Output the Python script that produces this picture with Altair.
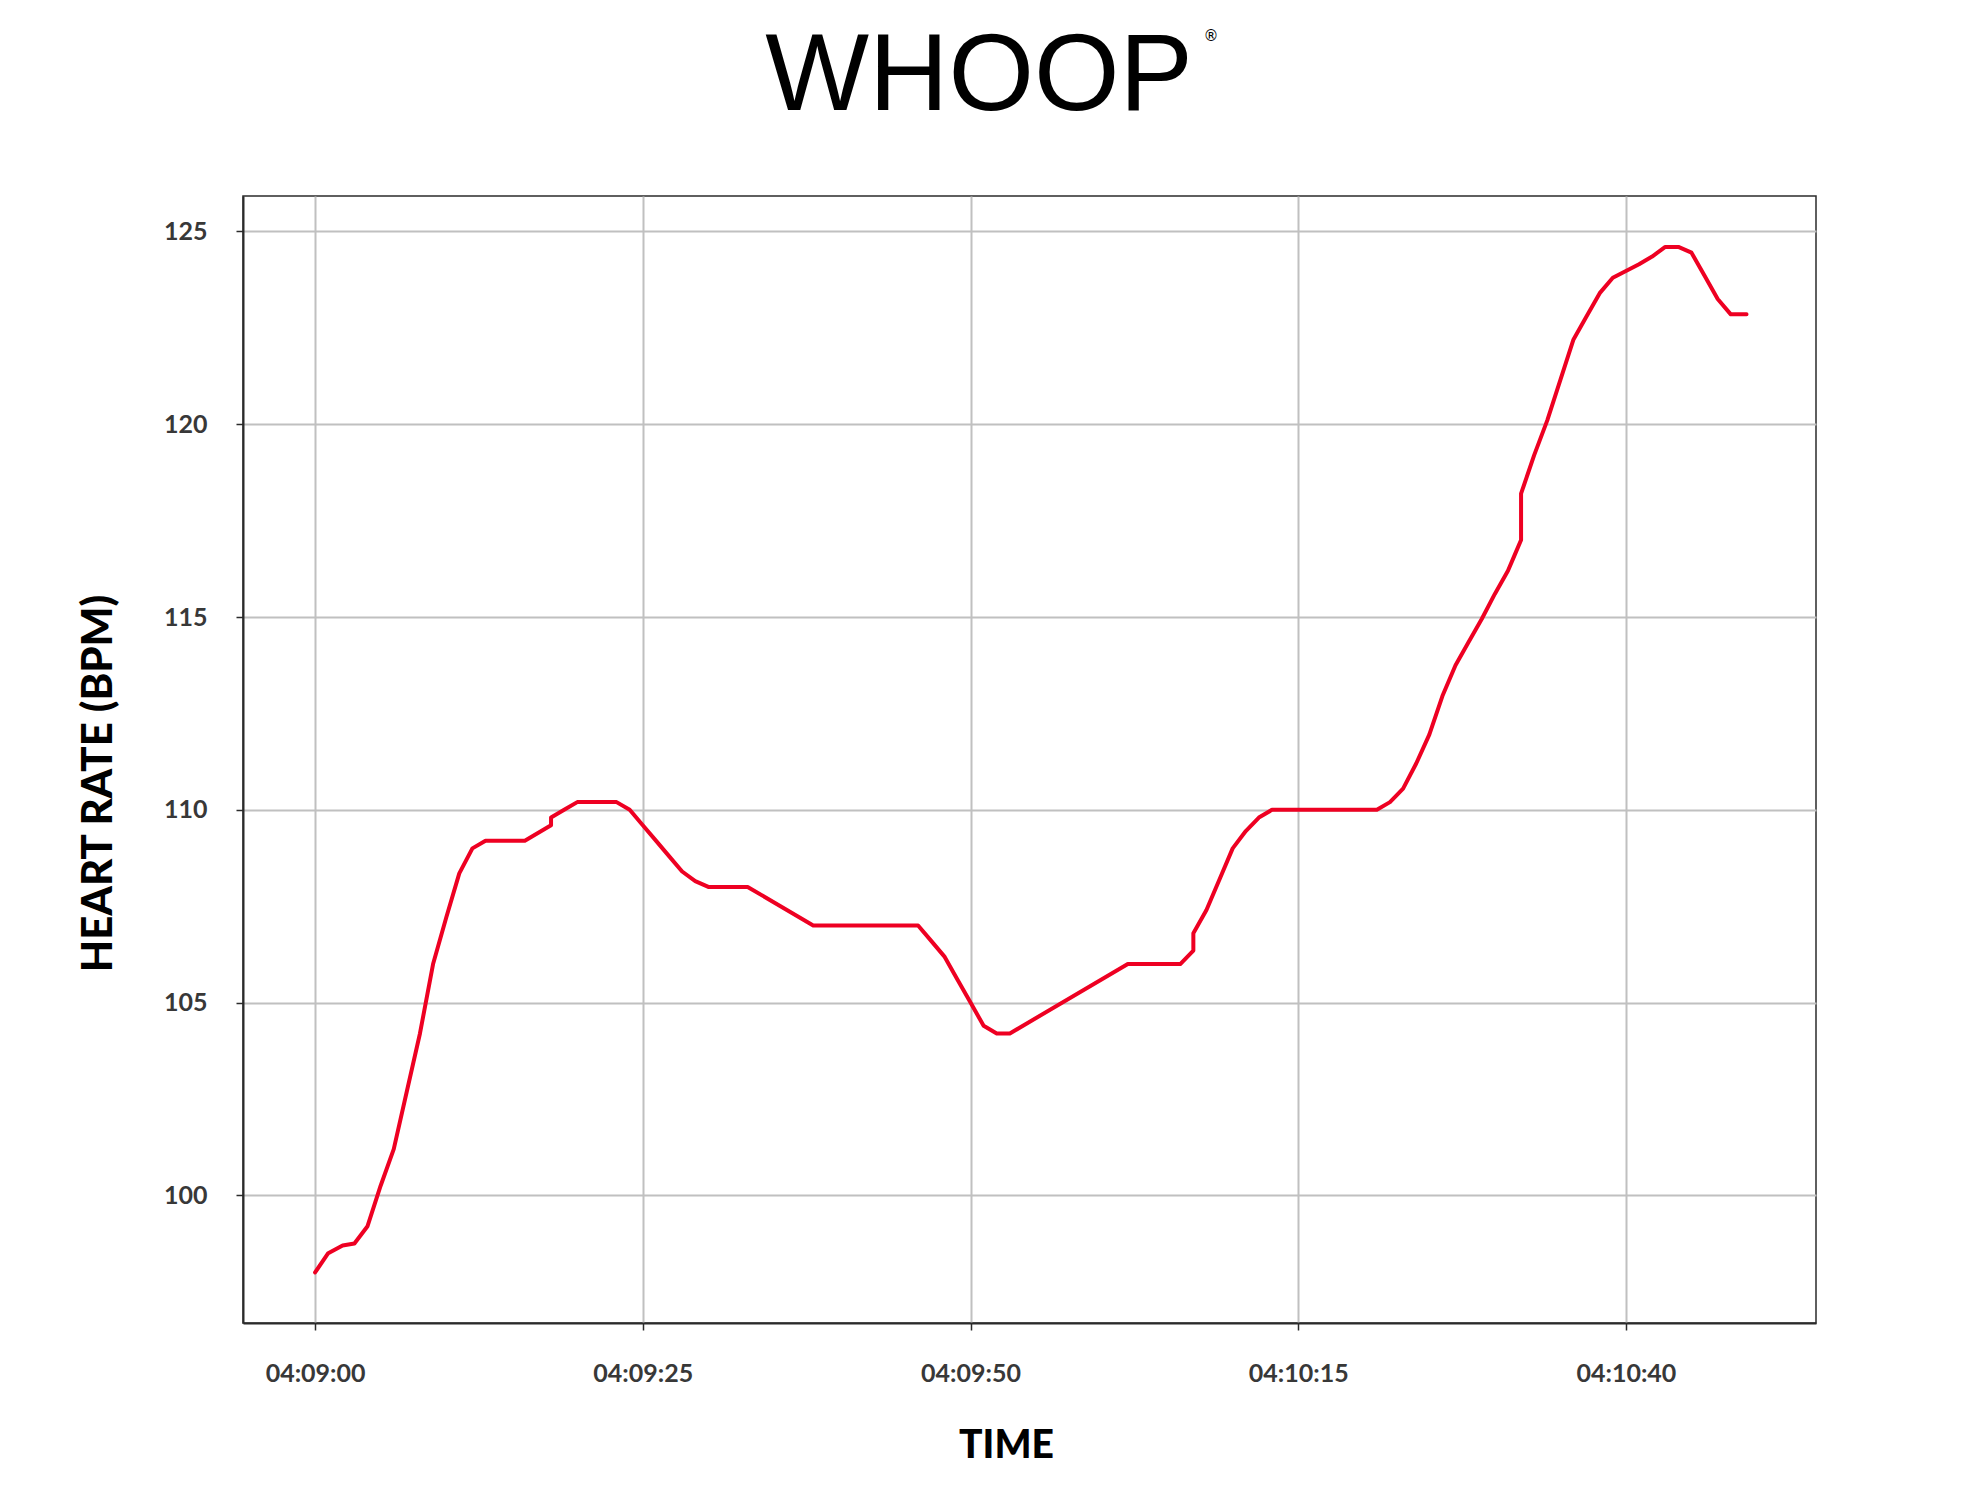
import altair as alt
import pandas as pd

# ---- data (seconds after 04:09:00, heart rate in BPM) ----
SECONDS = [0.0, 1.0, 2.1, 3.0, 4.0, 5.0, 6.0, 7.0, 8.0, 9.0, 10.0, 11.0, 12.0, 13.0,
           16.0, 18.0, 18.0, 19.0, 20.0, 23.0, 24.0, 25.0, 26.0, 27.0, 28.0, 29.0, 30.0,
           33.0, 38.0, 46.0, 47.0, 48.0, 49.0, 50.0, 51.0, 52.0, 53.0, 62.0, 66.0,
           67.0, 67.0, 68.0, 69.0, 70.0, 71.0, 72.0, 73.0, 81.0, 82.0, 83.0, 84.0,
           85.0, 86.0, 87.0, 88.0, 89.0, 90.0, 91.0, 91.5, 92.0, 92.0, 93.0, 94.0,
           95.0, 96.0, 97.0, 98.0, 99.0, 101.0, 102.0, 103.0, 104.0, 105.0, 106.0,
           107.0, 108.0, 109.2]
HEART_RATE = [98.0, 98.5, 98.7, 98.75, 99.2, 100.25, 101.2, 102.7, 104.2, 106.0, 107.2,
              108.35, 109.0, 109.2, 109.2, 109.6, 109.8, 110.0, 110.2, 110.2, 110.0,
              109.6, 109.2, 108.8, 108.4, 108.15, 108.0, 108.0, 107.0, 107.0, 106.6,
              106.2, 105.6, 105.0, 104.4, 104.2, 104.2, 106.0, 106.0, 106.35, 106.8,
              107.4, 108.2, 109.0, 109.45, 109.8, 110.0, 110.0, 110.2, 110.55, 111.2,
              111.95, 112.95, 113.75, 114.35, 114.95, 115.6, 116.2, 116.6, 117.0,
              118.2, 119.2, 120.1, 121.15, 122.2, 122.8, 123.4, 123.8, 124.15, 124.35,
              124.6, 124.6, 124.45, 123.85, 123.25, 122.85, 122.85]

X_TICKS = [0, 25, 50, 75, 100]          # 04:09:00 ... 04:10:40
Y_TICKS = [100, 105, 110, 115, 120, 125]
X_DOMAIN = [-5.5, 114.5]
Y_DOMAIN = [96.69, 125.92]

LOGO = "WHOOP"
LOGO_MARK = "®"
X_TITLE = "TIME"
Y_TITLE = "HEART RATE (BPM)"

df = pd.DataFrame({"sec": SECONDS, "bpm": HEART_RATE})

W, H = 1573, 1127
LABEL_FONT = "Lato"

line = alt.Chart(df).mark_line(
    color="#ee0022", strokeWidth=4, strokeJoin="round", strokeCap="round"
).encode(
    x=alt.X(
        "sec:Q",
        scale=alt.Scale(domain=X_DOMAIN, nice=False, zero=False),
        axis=alt.Axis(
            values=X_TICKS,
            labelExpr="timeFormat(datetime(2021, 0, 1, 4, 9, datum.value), '%H:%M:%S')",
            title=X_TITLE,
            titleX=763, titleY=134, titleAlign="center", titleBaseline="alphabetic",
            titleFont=LABEL_FONT, titleFontSize=39, titleFontWeight=900, titleColor="#000000",
            labelFont=LABEL_FONT, labelFontSize=25, labelFontWeight="bold", labelColor="#383838",
            labelPadding=31, tickSize=7, tickColor="#2b2b2b", tickWidth=1.5,
            grid=True, gridColor="#c0c0c0", gridWidth=2,
            domainColor="#2b2b2b", domainWidth=2,
        ),
    ),
    y=alt.Y(
        "bpm:Q",
        scale=alt.Scale(domain=Y_DOMAIN, nice=False, zero=False),
        axis=alt.Axis(
            values=Y_TICKS,
            title=Y_TITLE,
            titleX=-132, titleY=587, titleAngle=270, titleAlign="center",
            titleBaseline="alphabetic",
            titleFont=LABEL_FONT, titleFontSize=42, titleFontWeight=900, titleColor="#000000",
            labelFont=LABEL_FONT, labelFontSize=25, labelFontWeight="bold", labelColor="#383838",
            labelPadding=29, tickSize=7, tickColor="#2b2b2b", tickWidth=1.5,
            grid=True, gridColor="#c0c0c0", gridWidth=2,
            domainColor="#2b2b2b", domainWidth=2,
        ),
    ),
)

logo = alt.Chart(pd.DataFrame({"t": [LOGO]})).mark_text(
    font="Liberation Sans", fontSize=110, fontWeight=400, color="#000000",
    align="center", baseline="alphabetic"
).encode(text="t:N", x=alt.value(736), y=alt.value(-86))

logo_mark = alt.Chart(pd.DataFrame({"t": [LOGO_MARK]})).mark_text(
    font="DejaVu Sans", fontSize=15, color="#000000",
    align="center", baseline="middle"
).encode(text="t:N", x=alt.value(968), y=alt.value(-160))

chart = alt.layer(line, logo, logo_mark).properties(
    width=W, height=H,
    autosize=alt.AutoSizeParams(type="none"),
    padding={"left": 235, "top": 188, "right": 150, "bottom": 160},
    background="#ffffff",
).configure_view(stroke="#2b2b2b", strokeWidth=1.5)

chart.save("out.html", embed_options={"renderer": "svg", "actions": False})
